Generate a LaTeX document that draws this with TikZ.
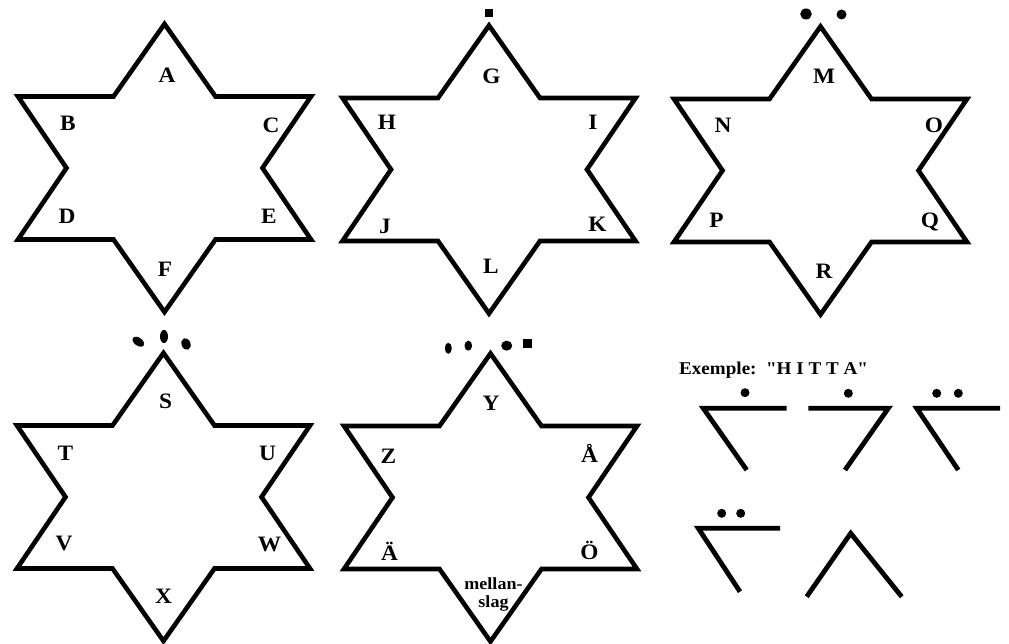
\documentclass[tikz,border=0pt]{standalone}
\usepackage{fontspec}
\setmainfont{Liberation Serif}[FakeStretch=1.06, Ligatures=TeXOff]
\begin{document}
\begin{tikzpicture}[x=1pt,y=-1pt,
  starline/.style={line width=4.6pt, line join=miter, black},
  glyph/.style={line width=4.8pt, line join=miter, line cap=butt, black},
  lbl/.style={font=\fontsize{22}{24}\selectfont\bfseries, inner sep=0pt},
  small/.style={font=\fontsize{17}{18}\selectfont\bfseries, inner sep=0pt, align=center},
  hexstar/.pic={\draw[starline] (0,-144) -- (51,-71.5) -- (146.5,-71.5) -- (98,0) -- (146.5,71.5) -- (51,71.5) -- (0,144) -- (-51,71.5) -- (-146.5,71.5) -- (-98,0) -- (-146.5,-71.5) -- (-51,-71.5) -- cycle;}]
\useasboundingbox (0,0) rectangle (1009,644);
\fill[white] (0,0) rectangle (1009,644);

% stars
\pic at (164.5,168) {hexstar};
\pic at (489,169.5) {hexstar};
\pic at (820.5,170.5) {hexstar};
\pic at (163.5,497) {hexstar};
\pic at (490.5,497.5) {hexstar};

% star 1
\node[lbl] (A) at (167,75) {A};
\node[lbl] (B) at (68,123) {B};
\node[lbl] (C) at (271,125) {C};
\node[lbl] (D) at (67,216) {D};
\node[lbl] (E) at (269,216) {E};
\node[lbl] (F) at (165,269) {F};
% star 2
\node[lbl] (G) at (491.5,76.5) {G};
\node[lbl] (H) at (387,122.5) {H};
\node[lbl] (I) at (593,122.5) {I};
\node[lbl] (J) at (385,226) {J};
\node[lbl] (K) at (597.5,224) {K};
\node[lbl] (L) at (491,266.5) {L};
% star 3
\node[lbl] (M) at (824,76) {M};
\node[lbl] (N) at (723,125) {N};
\node[lbl] (O) at (934,125) {O};
\node[lbl] (P) at (716.5,220.5) {P};
\node[lbl] (Q) at (930,222) {Q};
\node[lbl] (R) at (824,271.5) {R};
% star 4
\node[lbl] (S) at (165.5,401.5) {S};
\node[lbl] (T) at (65.5,453.5) {T};
\node[lbl] (U) at (267.5,453.5) {U};
\node[lbl] (V) at (64,543.5) {V};
\node[lbl] (W) at (269.5,544) {W};
\node[lbl] (X) at (163.5,596) {X};
% star 5
\node[lbl] (Y) at (491,403.5) {Y};
\node[lbl] (Z) at (388.5,456.5) {Z};
\node[lbl] (Aring) at (589.5,453.5) {Å};
\node[lbl] (Adia) at (389.5,551.5) {Ä};
\node[lbl] (Odia) at (589.5,550) {Ö};
\node[small] (space) at (493.5,594.5) {mellan-\\slag};

% dots above stars
\fill (484.5,9) rectangle (492.5,17.5);
\fill (806,14) ellipse [x radius=5.8, y radius=5.5];
\fill (841.5,14.5) ellipse [x radius=5, y radius=5];
\fill[rotate around={-35:(138.3,341.7)}] (138.3,341.7) ellipse [x radius=6.5, y radius=4];
\fill (164,336.5) ellipse [x radius=4, y radius=6.5];
\fill[rotate around={20:(186,344)}] (186,344) ellipse [x radius=4.5, y radius=6];
\fill (448.3,348.3) ellipse [x radius=3.5, y radius=5.5];
\fill (468.3,345.7) ellipse [x radius=3.8, y radius=5];
\fill (506.7,345.7) ellipse [x radius=5.5, y radius=5];
\fill (523,339) rectangle (532,348);

% example
\node[font=\fontsize{18}{20}\selectfont\bfseries, inner sep=0pt, anchor=base west] (ex) at (679,374) {Exemple:\ \ "H I T T A"};

\draw[glyph] (786.7,408.3) -- (703.3,408.3) -- (746.7,470);
\fill (745,392.7) circle [radius=4.5];
\draw[glyph] (808.3,408.3) -- (888.3,408.3) -- (845,470);
\fill (848.3,393.3) circle [radius=4.5];
\draw[glyph] (1000,408.3) -- (916.7,408.3) -- (958.3,470);
\fill (936.7,393.3) circle [radius=4.5];
\fill (958.3,393.3) circle [radius=4.5];
\draw[glyph] (780,528.3) -- (698.3,528.3) -- (740,591.7);
\fill (721.7,513.3) circle [radius=4.5];
\fill (740.7,513.3) circle [radius=4.5];
\draw[glyph] (806.7,596.7) -- (850.7,533.3) -- (901.7,596.7);
\end{tikzpicture}
\end{document}
